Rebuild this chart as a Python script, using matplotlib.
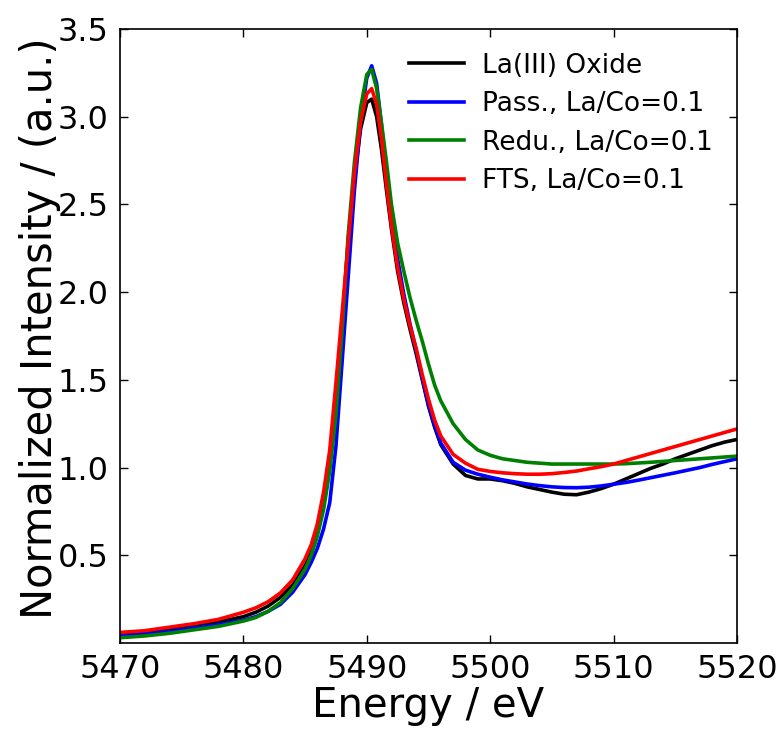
import numpy as np
import matplotlib
matplotlib.use("Agg")
import matplotlib.pyplot as plt

# La L3-edge XANES
energy = [5470, 5472, 5474, 5476, 5478, 5480, 5481, 5482, 5483, 5484,
          5485, 5485.5, 5486, 5486.5, 5487, 5487.5, 5488, 5488.5, 5489, 5489.5,
          5490, 5490.4, 5490.8, 5491.2, 5491.6, 5492, 5492.5, 5493, 5493.5, 5494,
          5494.5, 5495, 5495.5, 5496, 5497, 5498, 5499, 5500, 5501, 5502,
          5503, 5504, 5505, 5506, 5507, 5508, 5509, 5510, 5511, 5512,
          5513, 5514, 5515, 5516, 5517, 5518, 5519, 5520]

la_oxide = [0.05, 0.06, 0.075, 0.095, 0.12, 0.15, 0.175, 0.21, 0.26, 0.33,
            0.44, 0.52, 0.64, 0.80, 1.03, 1.38, 1.80, 2.30, 2.65, 2.93,
            3.08, 3.10, 3.00, 2.81, 2.58, 2.36, 2.12, 1.94, 1.79, 1.65,
            1.50, 1.35, 1.23, 1.13, 1.02, 0.955, 0.935, 0.935, 0.925, 0.91,
            0.89, 0.875, 0.86, 0.848, 0.845, 0.86, 0.88, 0.905, 0.935, 0.965,
            0.995, 1.02, 1.05, 1.075, 1.10, 1.125, 1.145, 1.16]

passivated = [0.04, 0.05, 0.065, 0.085, 0.105, 0.13, 0.15, 0.18, 0.22, 0.29,
              0.39, 0.46, 0.54, 0.65, 0.80, 1.12, 1.60, 2.09, 2.58, 2.97,
              3.22, 3.29, 3.19, 2.95, 2.68, 2.45, 2.19, 1.99, 1.82, 1.67,
              1.51, 1.36, 1.24, 1.14, 1.03, 0.985, 0.962, 0.945, 0.93, 0.918,
              0.906, 0.897, 0.89, 0.886, 0.885, 0.888, 0.895, 0.905, 0.915, 0.928,
              0.942, 0.956, 0.97, 0.985, 1.0, 1.018, 1.034, 1.05]

reduced = [0.03, 0.04, 0.055, 0.075, 0.095, 0.125, 0.145, 0.18, 0.23, 0.31,
           0.42, 0.50, 0.61, 0.76, 0.98, 1.30, 1.78, 2.33, 2.74, 3.05,
           3.24, 3.27, 3.16, 2.96, 2.74, 2.50, 2.28, 2.12, 1.97, 1.84,
           1.72, 1.59, 1.47, 1.38, 1.25, 1.16, 1.10, 1.07, 1.05, 1.04,
           1.03, 1.025, 1.02, 1.02, 1.02, 1.02, 1.02, 1.02, 1.022, 1.026,
           1.03, 1.035, 1.04, 1.045, 1.05, 1.055, 1.06, 1.065]

fts = [0.06, 0.07, 0.09, 0.11, 0.135, 0.175, 0.20, 0.235, 0.285, 0.36,
       0.48, 0.56, 0.68, 0.86, 1.10, 1.48, 1.88, 2.28, 2.68, 2.97,
       3.13, 3.16, 3.07, 2.87, 2.61, 2.38, 2.14, 1.96, 1.81, 1.68,
       1.53, 1.39, 1.27, 1.18, 1.075, 1.025, 0.99, 0.978, 0.97, 0.965,
       0.962, 0.962, 0.965, 0.972, 0.98, 0.993, 1.005, 1.02, 1.04, 1.06,
       1.08, 1.10, 1.12, 1.14, 1.16, 1.18, 1.20, 1.22]

labels = ["La(III) Oxide", "Pass., La/Co=0.1", "Redu., La/Co=0.1", "FTS, La/Co=0.1"]
colors = ["k", "b", "g", "r"]

fig = plt.figure(figsize=(7.8, 7.31), dpi=100)
ax = fig.add_axes([0.1538, 0.1204, 0.791, 0.840])

for y, lab, c in zip([la_oxide, passivated, reduced, fts], labels, colors):
    ax.plot(energy, y, color=c, lw=2.6, label=lab)

ax.set_xlim(5470, 5520)
ax.set_ylim(0, 3.5)
ax.set_xticks(np.arange(5470, 5521, 10))
ax.set_yticks(np.arange(0.5, 3.51, 0.5))

ax.tick_params(direction="in", top=True, right=True, length=6, width=1,
               labelsize=23, pad=8)
for s in ax.spines.values():
    s.set_linewidth(1.2)

ax.set_xlabel("Energy / eV", fontsize=29, labelpad=1)
ax.set_ylabel("Normalized Intensity / (a.u.)", fontsize=30)
ax.yaxis.set_label_coords(-0.095, 0.513)

ax.legend(loc="upper right", frameon=False, fontsize=19, handlelength=2.1,
          handletextpad=0.7, labelspacing=0.47, borderaxespad=0.5)

fig.savefig("out.png", dpi=100)
